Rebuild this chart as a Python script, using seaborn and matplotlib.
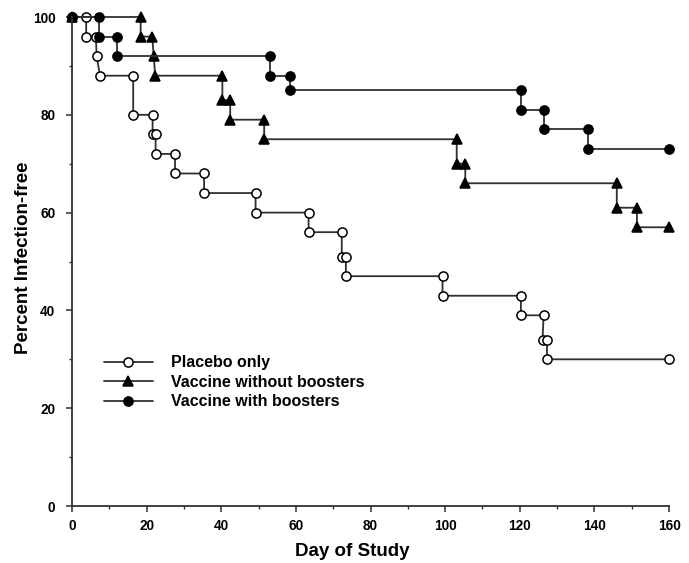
import numpy as np
import matplotlib
matplotlib.use("Agg")
import matplotlib.pyplot as plt
from matplotlib.ticker import MultipleLocator
import seaborn as sns

# step vertices (day, percent infection-free)
placebo_day = [0, 3.8, 3.8, 6.4, 6.6, 7.5, 16.4, 16.4, 21.6, 21.6, 22.4, 22.4, 27.6, 27.6,
               35.4, 35.4, 49.2, 49.2, 63.4, 63.4, 72.3, 72.3, 73.4, 73.4, 99.3, 99.3,
               120.3, 120.3, 126.4, 126.1, 127.3, 127.3, 160]
placebo_pct = [100, 100, 96, 96, 92, 88, 88, 80, 80, 76, 76, 72, 72, 68,
               68, 64, 64, 60, 60, 56, 56, 51, 51, 47, 47, 43,
               43, 39, 39, 34, 34, 30, 30]

noboost_day = [0, 18.4, 18.4, 21.5, 21.9, 22.3, 40.3, 40.3, 42.4, 42.4, 51.5, 51.5,
               103.1, 103.1, 105.4, 105.4, 146, 146, 151.4, 151.4, 160]
noboost_pct = [100, 100, 96, 96, 92, 88, 88, 83, 83, 79, 79, 75,
               75, 70, 70, 66, 66, 61, 61, 57, 57]

boost_day = [0, 7.3, 7.3, 12.1, 12.1, 53.1, 53.1, 58.4, 58.4, 120.3, 120.3,
             126.4, 126.4, 138.4, 138.4, 160]
boost_pct = [100, 100, 96, 96, 92, 92, 88, 88, 85, 85, 81,
             81, 77, 77, 73, 73]

labels = ["Placebo only", "Vaccine without boosters", "Vaccine with boosters"]

sns.set_style("ticks")
plt.rcParams['font.family'] = ['Liberation Sans', 'DejaVu Sans']
plt.rcParams['font.weight'] = 'bold'
plt.rcParams['text.color'] = 'black'
plt.rcParams['axes.labelcolor'] = 'black'
plt.rcParams['xtick.labelcolor'] = 'black'
plt.rcParams['ytick.labelcolor'] = 'black'

fig = plt.figure(figsize=(6.89, 5.63), dpi=100)
ax = fig.add_axes([0.1045, 0.1012, 0.8665, 0.8686])

line_col = "#303030"
common = dict(sort=False, estimator=None, color=line_col, linewidth=1.3,
              markeredgecolor="black", markeredgewidth=1.1, clip_on=False, ax=ax)
sns.lineplot(x=placebo_day, y=placebo_pct, marker="o", markersize=6.6,
             markerfacecolor="white", label=labels[0], **common)
sns.lineplot(x=noboost_day, y=noboost_pct, marker="^", markersize=7.2,
             markerfacecolor="black", label=labels[1], **common)
sns.lineplot(x=boost_day, y=boost_pct, marker="o", markersize=6.6,
             markerfacecolor="black", label=labels[2], **common)

ax.set_xlim(0, 160)
ax.set_ylim(0, 100)
ax.set_xticks(np.arange(0, 161, 20))
ax.set_yticks(np.arange(0, 101, 20))
ax.xaxis.set_minor_locator(MultipleLocator(10))
ax.yaxis.set_minor_locator(MultipleLocator(10))
sns.despine(ax=ax)
for s in ["left", "bottom"]:
    ax.spines[s].set_color(line_col)
    ax.spines[s].set_linewidth(1.3)
ax.tick_params(which="major", length=4, width=1.1, color=line_col, labelsize=9.8, pad=5)
ax.tick_params(which="minor", length=2.5, width=1.0, color=line_col)
ax.tick_params(axis="y", pad=8)
for t in ax.get_xticklabels() + ax.get_yticklabels():
    t.set_fontweight("bold")

ax.set_xlabel("Day of Study", fontsize=13.5, fontweight="bold")
ax.set_ylabel("Percent Infection-free", fontsize=13.5, fontweight="bold")
ax.xaxis.label.set_va("center")
ax.yaxis.label.set_va("center")
ax.xaxis.set_label_coords(0.47, -0.092)
ax.yaxis.set_label_coords(-0.081, 0.507)

ax.legend(loc="upper left", bbox_to_anchor=(0.053, 0.308), frameon=False,
          prop={"size": 11.5, "weight": "bold"}, handlelength=3.1,
          handletextpad=1.1, labelspacing=0.28, borderpad=0, borderaxespad=0)

fig.savefig("out.png", dpi=100)
